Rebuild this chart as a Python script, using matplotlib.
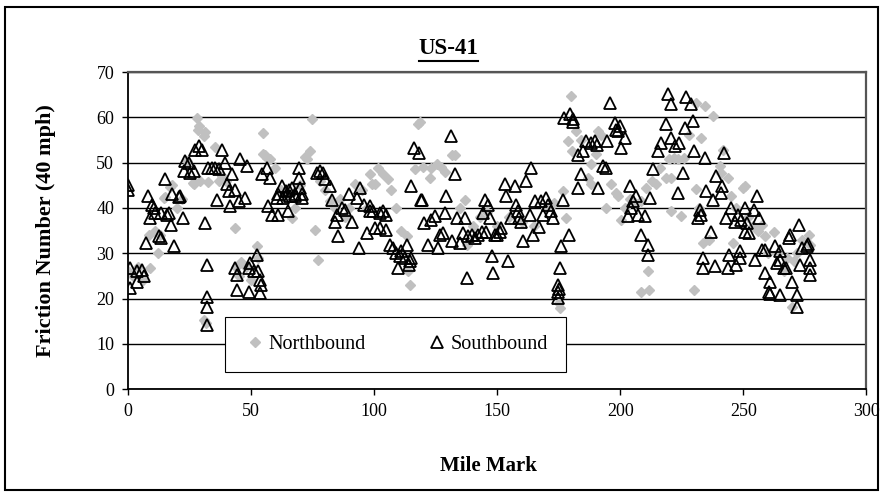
import matplotlib
matplotlib.use("Agg")
import matplotlib.pyplot as plt
from matplotlib.lines import Line2D
from matplotlib.patches import Rectangle

plt.rcParams['font.family'] = ['Liberation Serif', 'DejaVu Serif']

# Northbound readings (mile mark, friction number)
nb_mile = [0, 2, 4, 6, 8.4, 9, 11, 12.3, 13, 14.5, 15, 17, 18, 20, 22, 24, 26.4, 26.7,
           28, 28.5, 29, 29.4, 30.8, 31.3, 31, 31.5, 32.5, 35.4, 37, 38, 40, 43.5, 44, 45,
           46, 48, 50, 52.3, 53, 55, 55, 55.7, 56.4, 57.5, 59.8, 62, 64, 66.6, 68, 70, 72,
           72.7, 74, 74.7, 76, 77.4, 78, 80, 82.1, 84, 86, 88, 90, 92.3, 95, 97, 98.4, 99,
           100.3, 101.7, 103.7, 105.7, 107, 109.1, 111, 113.2, 113.9, 114.5, 116.6, 117.9,
           118.5, 120, 122.7, 123.3, 125.4, 127, 129, 131.5, 133, 135, 136.9, 137.6, 140,
           143, 146, 150, 155, 160, 165, 170, 173, 175.4, 175, 176.7, 178.1, 178.8, 180.1,
           180.5, 182, 184, 186.9, 188.2, 188.2, 190, 191, 192.4, 194.3, 196.4, 198.4, 199,
           200.4, 202, 204, 206, 208.6, 208.6, 210.6, 211.3, 211.9, 213, 214.7, 216, 218.7,
           220, 220.8, 220.8, 222, 223.5, 224.8, 226, 228, 230.2, 230.9, 230.9, 232, 233,
           233.6, 234.3, 236, 237.7, 240.4, 241, 241.8, 243.8, 245.1, 245.8, 247, 249.9,
           250.8, 252, 254, 256, 257.6, 259, 260, 262.4, 264, 266.4, 268, 269.8, 270.5, 272,
           274, 276.6, 277]
nb_fn = [26, 25, 27, 24, 34, 26.7, 35, 30, 34, 42.2, 42.4, 44.6, 45, 40, 42, 50.3, 45.5, 45.2,
         59.8, 57.3, 58, 45.9, 55.9, 56.7, 15.3, 14.5, 45.7, 53.4, 46, 47, 45.9, 35.5, 27, 25,
         28, 27, 24, 31.5, 29, 56.5, 52, 51.8, 51, 50.7, 48.9, 44, 42, 37.8, 40, 45, 51.2,
         50.7, 52.5, 59.6, 35.2, 28.6, 46, 44, 41.5, 40, 42, 38, 40, 45.2, 44, 40, 47.4, 45.2,
         45.2, 48.9, 47.4, 46.3, 44, 40, 35, 33.7, 26, 23, 48.5, 58.5,
         59, 49, 46.6, 48.9, 49.6, 49, 48, 51.8, 51.8, 40, 41.8, 31.9, 36,
         38, 39, 36, 38, 37, 36, 40, 41, 17.9, 19, 43.7, 37.8, 54.8, 64.7,
         52.5, 57, 55, 46.6, 49.6, 45.2, 52, 57, 56, 40, 45.2, 43.3, 42.6,
         37.4, 40, 42, 41, 41.5, 21.5, 44.4, 26, 21.9, 46, 45.2, 48.9, 46.6,
         50.7, 46.6, 39.3, 51, 50.7, 38.2, 51, 56, 21.9, 63.2, 44.1, 40, 55.5,
         32.3, 62.5, 33, 60.3, 49.2, 47.7, 52.9, 46.6, 42.6, 32.3, 40, 44.4,
         44.8, 38, 36, 35, 36.3, 33.7, 30, 34.8, 30, 26, 29, 18.2, 28.2, 30,
         33, 34.1, 31.9]

# Southbound readings (mile mark, friction number)
sb_mile = [0, 0, 1, 1, 3.7, 3.7, 5.7, 6.4, 7.3, 8, 9, 9.8, 10.5, 11, 12.5, 13.5, 13.5, 15,
           15.9, 16.5, 17.6, 18, 18.6, 20.6, 21.2, 22.4, 22.6, 23.3, 24.7, 25.3, 26.7, 27.4,
           28.7, 30, 31.2, 32, 32, 32, 32, 32.5, 34, 35.5, 36.2, 36.8, 38.2, 39.6, 40.2, 41,
           41.6, 42.3, 43.6, 43.6, 44.3, 44.3, 45, 45.7, 47.7, 48.4, 49, 49, 49.6, 51, 52.3,
           53, 53.7, 54, 53.7, 54.4, 56.4, 57, 57.8, 58.4, 60.5, 61.1, 61.1, 62.5, 63, 64,
           65.2, 65.5, 66, 66.6, 68, 68, 69.3, 69.3, 70, 70.5, 70.8, 76.7, 78.1, 79.4, 80.1,
           82.1, 82.8, 84.2, 84.9, 85.5, 86.9, 88.3, 89.6, 91, 93.7, 94.4, 93, 95.7, 97,
           98.4, 98.3, 99.6, 100.3, 102.3, 102.5, 103.7, 105, 105, 106.4, 107.8, 109.1,
           109.8, 110.5, 111, 112.5, 113.2, 114, 114.5, 115.2, 115.2, 116.3, 118.2, 119,
           119.5, 120.4, 122, 123.3, 124.7, 126, 126.7, 128, 128.8, 129.4, 131.2, 131.5,
           132.8, 133.5, 134.9, 136.2, 136.9, 137.6, 138.2, 139.6, 141, 142.3, 143.7, 144.4,
           145, 146.4, 147, 145.5, 147.8, 148.4, 149, 150, 151, 151.7, 154.4, 153, 153.7,
           155.7, 157.1, 157.8, 158.4, 159, 159.8, 160.5, 161.8, 163.2, 163.9, 164.5, 165.2,
           167.2, 167.8, 168.6, 170, 170.6, 172, 172.7, 174.7, 174.7, 175, 174.7, 175.4, 176,
           176.7, 177.1, 179.4, 179.5, 180.8, 181, 182.8, 182.8, 184.2, 184.9, 186.2, 188.2,
           189.6, 190.5, 191, 193, 194.3, 194.5, 195.7, 197.7, 198.4, 199, 199.8, 200.4,
           201.8, 203.2, 203.8, 204.5, 205.2, 206.5, 207.2, 208.6, 209.9, 211.3, 211.3, 212,
           213.3, 215.3, 216.7, 218.7, 219.4, 220.8, 220.8, 222.1, 223.5, 224.1, 225.5,
           226.2, 226.9, 228.9, 229.6, 230.2, 231.6, 232.3, 233, 233.6, 233.6, 234.3, 235,
           237, 237.7, 238.4, 239, 241, 241.5, 242.4, 243.1, 243.8, 244.3, 245.1, 246.5,
           247.9, 248.5, 247, 248.8, 249.2, 250.6, 250.6, 251.5, 252.2, 254.2, 254.9, 255.6,
           256.3, 257.6, 259, 259, 260.3, 260.8, 261, 263, 263.7, 265, 265, 265, 266.4, 267.5,
           268.5, 269.1, 269.8, 271.8, 271.8, 272.5, 273.2, 273.9, 275.9, 276.5, 277.3,
           277.3, 277.3]
sb_fn = [45, 44, 26.7, 22.3, 26, 23.6, 26.3, 24.9, 32.3, 42.6, 37.8, 40.7, 40, 38.9, 33.7,
         33.4, 38.9, 46.3, 38.5, 38.9, 36.3, 43, 31.5, 42.4, 42.6, 37.8, 48.1, 50.3, 50, 47.7,
         48.1, 52.9, 53.7, 52.9, 36.7, 27.5, 20.4, 18.2, 14.2, 48.9, 48.9, 48.9, 41.8, 48.7,
         52.7, 50, 45.2, 43.7, 40.4, 47.4, 44, 26.7, 25.2, 21.9, 41.5, 50.7, 42.2, 49.2, 26.7,
         21.5, 27.8, 26, 29.7, 26, 24.1, 23, 21.2, 47.4, 48.9, 40.4, 46.6, 38.5, 42.2, 38.5,
         43, 44.8, 42.2, 43.7, 39.3, 44, 42.6, 44.4, 43, 42.6, 48.9, 46.6, 44.4, 43, 42.2,
         47.7, 48.1, 47.7, 46.3, 44.8, 41.8, 37, 38.5, 33.7, 40, 39.6, 43, 37, 31.1, 44.4,
         42.2, 40.7, 34.5, 40.4, 39.3, 39.3, 35.6, 38.9, 35.6, 39.3, 38.5, 35.2, 31.9, 31.1,
         30, 26.7, 29.3, 30.4, 28.9, 31.9, 27.5, 28.2, 44.8, 28.9, 53.3, 52.2, 41.8, 41.8,
         36.7, 31.9, 37.4, 38.2, 31.1, 34.1, 34.5, 38.9, 42.6, 55.9, 32.6, 47.4, 37.8, 32.3,
         34.5, 37.8, 24.5, 33.7, 34.1, 33.4, 34.1, 34.8, 38.9, 41.8, 40.7, 37.8, 34.8, 29.3,
         25.6, 34.1, 34, 34.8, 35.6, 28.2, 45.2, 42.6, 37.8, 44.8, 40.7, 39.3, 37.8, 37, 32.6,
         45.9, 38.5, 48.9, 34.1, 41.5, 35.9, 41.5, 38.5, 42.2, 40.7, 39.3, 37.8, 23, 21.4, 22,
         20.1, 26.7, 31.5, 41.8, 59.9, 34.1, 60.7, 59.6, 59, 51.8, 44.4, 47.4, 52.5, 54.8,
         54.4, 54.8, 54, 44.4, 49.2, 48.9, 54.8, 63.2, 58.8, 57.3, 57, 58.1, 53.3, 55.5, 38.2,
         44.8, 40, 41.5, 42.6, 38.5, 34.1, 38.2, 31.9, 29.7, 42.2, 48.5, 52.5, 54.4, 58.5,
         65.1, 62.9, 55.5, 53.7, 43.3, 54.4, 47.7, 57.7, 64.4, 62.9, 59.2, 52.5, 37.8, 39.6,
         38.5, 28.9, 26.7, 51.1, 43.7, 34.8, 41.8, 27.1, 47, 43.3, 44.8, 52.2, 37.8, 26.7,
         29.7, 40, 37, 38.5, 28.9, 27.5, 30.4, 37.4, 34.8, 40, 36.7, 34.5, 39.6, 28.6, 42.6,
         37.8, 30.8, 30.8, 25.6, 21.5, 21, 23.7, 31.5, 27.8, 30.4, 28.5, 20.8, 26.7, 26.7,
         33.4, 34.1, 23.7, 20.8, 18.2, 36.3, 27.5, 31.1, 31.5, 32, 28.6, 26.7, 25.2]

x_ticks = [0, 50, 100, 150, 200, 250, 300]
y_ticks = [0, 10, 20, 30, 40, 50, 60, 70]

fig = plt.figure(figsize=(8.83, 4.97), dpi=100)
ax = fig.add_axes([0.145, 0.217, 0.836, 0.638])

ax.plot(nb_mile, nb_fn, linestyle='none', marker='D', ms=5.2, color='#c0c0c0',
        mec='#c0c0c0', label='Northbound', zorder=2)
ax.plot(sb_mile, sb_fn, linestyle='none', marker='^', ms=8.8, mfc='none', mec='black',
        mew=1.3, label='Southbound', zorder=3)

ax.set_xlim(0, 300)
ax.set_ylim(0, 70)
ax.set_xticks(x_ticks)
ax.set_yticks(y_ticks)
ax.tick_params(labelsize=13, length=4, direction='out', width=1, pad=6)
ax.yaxis.grid(True, color='black', linewidth=1)
ax.set_axisbelow(True)

for side in ['top', 'right']:
    ax.spines[side].set_color('#555555')
    ax.spines[side].set_linewidth(1.6)
ax.spines['left'].set_linewidth(1.3)
ax.spines['bottom'].set_linewidth(1.3)

leg = ax.legend(loc='lower left', bbox_to_anchor=(0.131, 0.054, 0.462, 0.186),
                mode='expand', ncol=2, fontsize=14.5, frameon=True, fancybox=False,
                framealpha=1, borderpad=0.9, handletextpad=0.05, handlelength=1.2,
                columnspacing=2.0, borderaxespad=0)
leg.get_frame().set_edgecolor('black')
leg.get_frame().set_linewidth(0.8)

title = fig.text(0.508, 0.903, 'US-41', ha='center', va='center', fontsize=16.5,
                 fontweight='bold')
fig.text(0.553, 0.062, 'Mile Mark', ha='center', va='center', fontsize=15,
         fontweight='bold')
fig.text(0.052, 0.536, 'Friction Number (40 mph)', ha='center', va='center',
         fontsize=16, fontweight='bold', rotation=90)

# underline the title
fig.canvas.draw()
bb = title.get_window_extent().transformed(fig.transFigure.inverted())
fig.add_artist(Line2D([bb.x0, bb.x1], [bb.y0 - 0.004, bb.y0 - 0.004],
                      transform=fig.transFigure, color='black', lw=1.5))

fig.add_artist(Rectangle((0.006, 0.014), 0.988, 0.972, transform=fig.transFigure,
                         fill=False, edgecolor='black', lw=1.5))

fig.savefig('out.png', dpi=100)
